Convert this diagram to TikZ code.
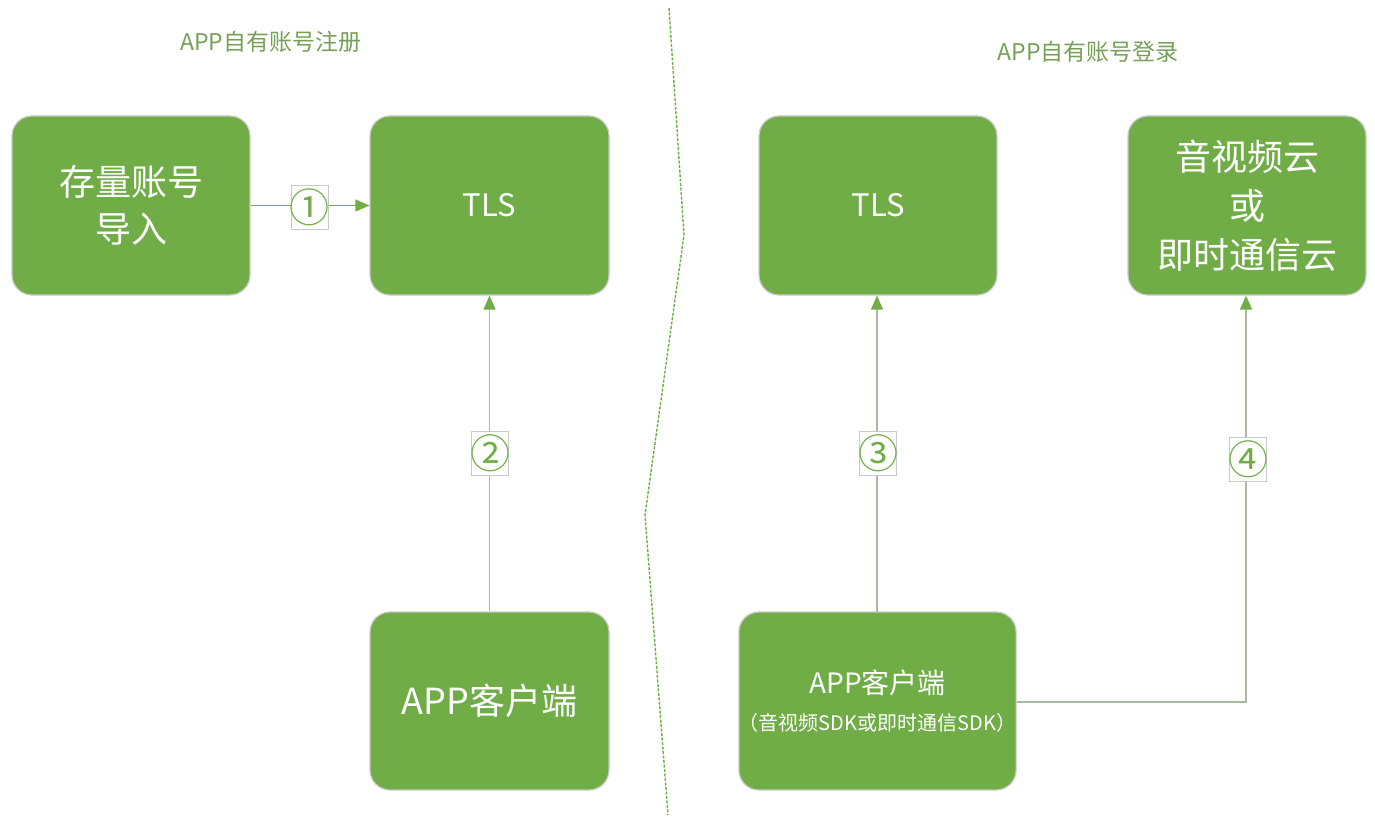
\documentclass[tikz,border=0pt]{standalone}
\usepackage{fontspec}
\setmainfont{Noto Sans CJK SC}
\usetikzlibrary{arrows.meta}
\definecolor{boxgreen}{HTML}{70AD47}
\definecolor{boxborder}{HTML}{C9C9C9}
\definecolor{linegray}{HTML}{A8BBA0}
\definecolor{titlegreen}{HTML}{76A055}
\tikzset{
  box/.style={draw=boxborder, line width=1.2pt, fill=boxgreen, rounded corners=20pt, text=white, align=center, inner sep=0pt},
  numlabel/.style={draw=boxborder, fill=white, line width=1pt, minimum width=37pt, minimum height=44pt, inner sep=0pt, text=boxgreen, font=\fontsize{40}{40}\selectfont},
  conn/.style={draw=linegray, line width=1.3pt},
  arr/.style={-{Triangle[width=12pt,length=14pt,color=boxgreen]}},
  title/.style={text=titlegreen, font=\fontsize{23}{26}\selectfont}
}
\newcommand{\numtext}[1]{\makebox[0pt]{#1}}
\begin{document}
\begin{tikzpicture}[x=1pt,y=-1pt]
\useasboundingbox (0,0) rectangle (1375,818);
% titles
\node[title] (t1) at (271,42) {APP自有账号注册};
\node[title] (t2) at (1088,52) {APP自有账号登录};
% divider
\coordinate (d1) at (669,8);
\coordinate (d2) at (684,235);
\coordinate (d3) at (645,515);
\coordinate (d4) at (668,815);
\draw[boxgreen, line width=1.4pt, dash pattern=on 3pt off 1.5pt] (d1) -- (d2) -- (d3) -- (d4);
% boxes
\node[box, minimum width=238pt, minimum height=179pt, font=\fontsize{36}{50}\selectfont] (imp) at (131,205.5) {\raisebox{-3pt}{存量账号}\\导入};
\node[box, minimum width=239pt, minimum height=179pt, font=\fontsize{31}{32}\selectfont] (tls1) at (489.5,205.5) {TLS};
\node[box, minimum width=239pt, minimum height=178pt, font=\fontsize{36}{40}\selectfont] (app1) at (489.5,701) {APP客户端};
\node[box, minimum width=238pt, minimum height=179pt, font=\fontsize{31}{32}\selectfont] (tls2) at (878,205.5) {TLS};
\node[box, minimum width=238pt, minimum height=179pt, font=\fontsize{36}{49}\selectfont] (cloud) at (1247,205.5) {音视频云\\或\\即时通信云};
\node[box, minimum width=277pt, minimum height=178pt] (app2) at (877.5,701) {{\fontsize{28}{34}\selectfont APP客户端}\\[16pt]{\fontsize{20}{24}\selectfont （音视频SDK或即时通信SDK）}};
% connectors
\draw[boxgreen, line width=1.3pt, arr] (imp.east) -- (tls1.west);
\node[numlabel] (n1) at (309.5,207.5) {\numtext{①}};
\draw[conn, arr] (app1.north) -- (tls1.south);
\node[numlabel] (n2) at (490,453) {\numtext{②}};
\coordinate (c3) at (877,612);
\draw[conn, arr] (c3) -- (tls2.south -| c3);
\node[numlabel] (n3) at (878,453) {\numtext{③}};
\coordinate (c4) at (1246,702);
\draw[conn, arr] (app2.east |- c4) -- (c4) -- (c4 |- cloud.south);
\node[numlabel] (n4) at (1248,459) {\numtext{④}};
\end{tikzpicture}
\end{document}
